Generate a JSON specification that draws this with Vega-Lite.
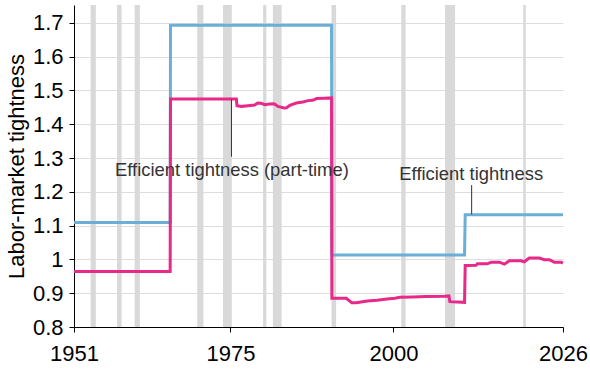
{
  "$schema": "https://vega.github.io/schema/vega-lite/v6.json",
  "width": 489,
  "height": 322,
  "autosize": {"type": "none"},
  "padding": {"left": 74, "top": 5, "right": 27, "bottom": 44},
  "config": {
    "font": "Liberation Sans",
    "view": {"stroke": null},
    "axis": {"labelFont": "Liberation Sans", "titleFont": "Liberation Sans"}
  },
  "datasets": {
    "rec": [
      {"start": 1953.55, "end": 1954.35},
      {"start": 1957.6, "end": 1958.3},
      {"start": 1960.3, "end": 1961.1},
      {"start": 1969.9, "end": 1970.85},
      {"start": 1973.85, "end": 1975.2},
      {"start": 1980.0, "end": 1980.5},
      {"start": 1981.5, "end": 1982.85},
      {"start": 1990.5, "end": 1991.2},
      {"start": 2001.2, "end": 2001.85},
      {"start": 2007.9, "end": 2009.45},
      {"start": 2019.9, "end": 2020.3}
    ],
    "eff": [
      {"year": 1951, "value": 1.109},
      {"year": 1965.75, "value": 1.109},
      {"year": 1965.8, "value": 1.693},
      {"year": 1990.5, "value": 1.693},
      {"year": 1990.55, "value": 1.013},
      {"year": 2010.9, "value": 1.013},
      {"year": 2011.0, "value": 1.132},
      {"year": 2026, "value": 1.132}
    ],
    "pt": [
      {"year": 1951, "value": 0.964},
      {"year": 1965.75, "value": 0.964},
      {"year": 1965.8, "value": 1.475},
      {"year": 1975.9, "value": 1.475},
      {"year": 1976.0, "value": 1.455},
      {"year": 1976.7, "value": 1.453},
      {"year": 1977.7, "value": 1.455},
      {"year": 1978.7, "value": 1.457},
      {"year": 1979.2, "value": 1.463},
      {"year": 1979.7, "value": 1.462},
      {"year": 1980.25, "value": 1.458},
      {"year": 1981.0, "value": 1.46},
      {"year": 1981.7, "value": 1.461},
      {"year": 1982.3, "value": 1.453},
      {"year": 1983.2, "value": 1.448},
      {"year": 1983.6, "value": 1.449},
      {"year": 1984.1, "value": 1.456},
      {"year": 1985.1, "value": 1.463},
      {"year": 1986.1, "value": 1.466},
      {"year": 1986.9, "value": 1.47},
      {"year": 1987.6, "value": 1.471},
      {"year": 1988.2, "value": 1.476},
      {"year": 1989.4, "value": 1.477},
      {"year": 1990.5, "value": 1.478},
      {"year": 1990.55, "value": 0.885},
      {"year": 1992.75, "value": 0.885},
      {"year": 1993.6, "value": 0.872},
      {"year": 1994.3, "value": 0.872},
      {"year": 1995.0, "value": 0.874},
      {"year": 1996.0, "value": 0.877},
      {"year": 1997.5, "value": 0.879},
      {"year": 1999.0, "value": 0.883},
      {"year": 2000.2, "value": 0.885},
      {"year": 2001.0, "value": 0.888},
      {"year": 2003.0, "value": 0.889},
      {"year": 2005.0, "value": 0.89},
      {"year": 2007.8, "value": 0.891},
      {"year": 2008.5, "value": 0.892},
      {"year": 2008.65, "value": 0.875},
      {"year": 2010.9, "value": 0.873},
      {"year": 2011.0, "value": 0.982},
      {"year": 2011.3, "value": 0.982},
      {"year": 2012.67, "value": 0.983},
      {"year": 2012.87, "value": 0.987},
      {"year": 2014.4, "value": 0.987},
      {"year": 2014.97, "value": 0.992},
      {"year": 2016.24, "value": 0.992},
      {"year": 2017.0, "value": 0.986},
      {"year": 2017.77, "value": 0.996},
      {"year": 2019.56, "value": 0.996},
      {"year": 2020.06, "value": 0.993},
      {"year": 2020.83, "value": 1.004},
      {"year": 2022.36, "value": 1.004},
      {"year": 2023.13, "value": 0.999},
      {"year": 2023.9, "value": 0.999},
      {"year": 2024.66, "value": 0.992},
      {"year": 2025.69, "value": 0.992},
      {"year": 2026, "value": 0.989}
    ],
    "labels": [
      {"year": 1957.3, "value": 1.247, "text": "Efficient tightness (part-time)"},
      {"year": 2000.9, "value": 1.236, "text": "Efficient tightness"}
    ],
    "leaders": [
      {"year": 1975.15, "y1": 1.473, "y2": 1.304},
      {"year": 2011.99, "y1": 1.1336, "y2": 1.22}
    ]
  },
  "layer": [
    {
      "data": {"name": "rec"},
      "mark": {"type": "rect", "color": "#d9d9d9"},
      "encoding": {
        "x": {
          "field": "start",
          "type": "quantitative",
          "scale": {"domain": [1951, 2026], "nice": false, "zero": false},
          "axis": {
            "values": [1951, 1975, 2000, 2026],
            "format": "d",
            "title": null,
            "grid": false,
            "domainColor": "#000000",
            "tickColor": "#000000",
            "tickSize": 5,
            "labelFontSize": 22,
            "labelColor": "#000000",
            "labelPadding": 11,
            "labelFlush": false,
            "labelOverlap": false
          }
        },
        "x2": {"field": "end"}
      }
    },
    {
      "data": {"name": "eff"},
      "mark": {"type": "line", "color": "#6baed6", "strokeWidth": 3},
      "encoding": {
        "x": {"field": "year", "type": "quantitative"},
        "y": {
          "field": "value",
          "type": "quantitative",
          "scale": {"domain": [0.8, 1.753], "nice": false, "zero": false},
          "axis": {
            "tickCount": 10,
            "labelExpr": "format(datum.value, '.1~f')",
            "title": "Labor-market tightness",
            "titleFontSize": 22,
            "titleFontWeight": "normal",
            "titleColor": "#000000",
            "titlePadding": 4,
            "grid": true,
            "gridColor": "#dddddd",
            "domainColor": "#000000",
            "tickColor": "#000000",
            "tickSize": 5,
            "labelFontSize": 22,
            "labelColor": "#000000",
            "labelPadding": 6,
            "labelOverlap": false,
            "labelFlush": false,
            "labelSeparation": 0
          }
        }
      }
    },
    {
      "data": {"name": "pt"},
      "mark": {"type": "line", "color": "#e7298a", "strokeWidth": 3},
      "encoding": {
        "x": {"field": "year", "type": "quantitative"},
        "y": {"field": "value", "type": "quantitative"}
      }
    },
    {
      "data": {"name": "leaders"},
      "mark": {"type": "rule", "color": "#333333", "strokeWidth": 1},
      "encoding": {
        "x": {"field": "year", "type": "quantitative"},
        "y": {"field": "y1", "type": "quantitative"},
        "y2": {"field": "y2"}
      }
    },
    {
      "data": {"name": "labels"},
      "mark": {"type": "text", "align": "left", "baseline": "alphabetic", "fontSize": 18.4, "color": "#333333", "font": "Liberation Sans"},
      "encoding": {
        "x": {"field": "year", "type": "quantitative"},
        "y": {"field": "value", "type": "quantitative"},
        "text": {"field": "text"}
      }
    }
  ]
}
